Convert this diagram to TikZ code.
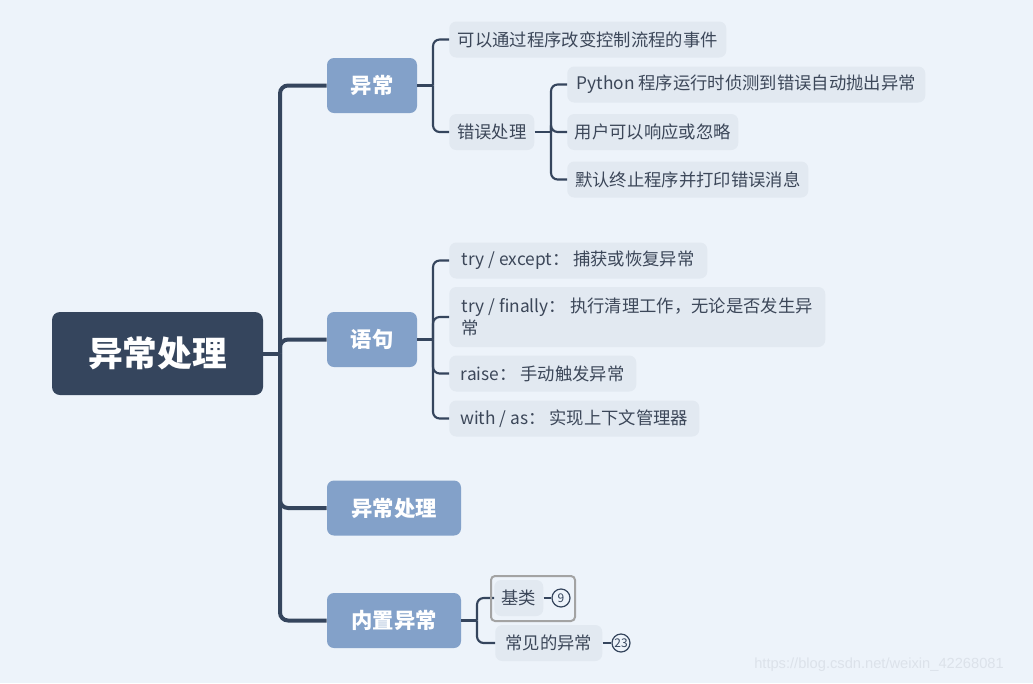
\documentclass[tikz,border=0pt]{standalone}
\usepackage{fontspec}
\setmainfont{Noto Sans CJK SC}
\newfontfamily\wmfont{Liberation Sans}
\definecolor{bgc}{HTML}{EDF3FA}
\definecolor{rootc}{HTML}{35455D}
\definecolor{mainc}{HTML}{83A1C9}
\definecolor{leafc}{HTML}{E2E9F1}
\definecolor{leaftext}{HTML}{3C4759}
\definecolor{linec}{HTML}{35455D}
\definecolor{selc}{HTML}{A3A3A3}
\definecolor{wmc}{HTML}{DCE2EA}
\tikzset{
  rootnode/.style={fill=rootc, rounded corners=6pt, text=white, inner sep=0pt,
    font=\fontsize{26}{30}\selectfont\bfseries, minimum width=158.25pt, minimum height=62.25pt},
  mainnode/.style={fill=mainc, rounded corners=5.25pt, text=white, inner sep=0pt,
    font=\fontsize{16}{19}\selectfont\bfseries, minimum height=41.25pt},
  leaf/.style={fill=leafc, rounded corners=5.25pt, text=leaftext, inner sep=0pt,
    font=\fontsize{13}{17}\selectfont, minimum height=27pt, anchor=west},
  trunk/.style={draw=linec, line width=3pt, rounded corners=6pt},
  sub/.style={draw=linec, line width=1.6pt, rounded corners=5pt},
  badge/.style={circle, draw=linec, line width=0.9pt, fill=bgc, inner sep=0pt,
    minimum size=13.5pt, text=linec, font=\fontsize{9}{10}\selectfont},
  selbox/.style={draw=selc, line width=1.5pt, rounded corners=3pt},
}
\begin{document}
\begin{tikzpicture}[x=0.75pt,y=-0.75pt]
\useasboundingbox[fill=bgc] (0,0) rectangle (1033,683);

% root and main branches
\node[rootnode] (root) at (157.5,353.5) {异常处理};
\node[mainnode, minimum width=67.5pt] (m1) at (372,85.5) {异常};
\node[mainnode, minimum width=67.5pt] (m2) at (372,339.5) {语句};
\node[mainnode, minimum width=100.5pt] (m3) at (394,508) {异常处理};
\node[mainnode, minimum width=100.5pt] (m4) at (394,620.5) {内置异常};

\coordinate (j0) at (280,353.5);
\draw[trunk] (root.east) -- (j0);
\foreach \m in {m1,m2,m3,m4} \draw[trunk] (j0) |- (\m.west);

% 异常 children
\node[leaf, minimum width=207.75pt] (a1) at (449,39.5) {可以通过程序改变控制流程的事件};
\node[leaf, minimum width=63.75pt] (a2) at (449,132) {错误处理};
\coordinate (j1) at (433,85.5);
\draw[sub] (m1.east) -- (j1);
\foreach \n in {a1,a2} \draw[sub] (j1) |- (\n.west);

% 错误处理 children
\node[leaf, minimum width=268.5pt] (b1) at (567,84.5) {Python 程序运行时侦测到错误自动抛出异常};
\node[leaf, minimum width=128.25pt] (b2) at (567,132) {用户可以响应或忽略};
\node[leaf, minimum width=180.75pt] (b3) at (567,179.5) {默认终止程序并打印错误消息};
\coordinate (j2) at (551,132);
\draw[sub] (a2.east) -- (j2);
\foreach \n in {b1,b2,b3} \draw[sub] (j2) |- (\n.west);

% 语句 children
\node[leaf, minimum width=193.5pt] (c1) at (449,260.5) {try / except： 捕获或恢复异常};
\node[leaf, minimum width=282pt, minimum height=45pt, align=left] (c2) at (449,317) {try / finally： 执行清理工作，无论是否发生异\\常};
\node[leaf, minimum width=140.25pt] (c3) at (449,373.5) {raise：  手动触发异常};
\node[leaf, minimum width=187.5pt] (c4) at (449,418.5) {with / as： 实现上下文管理器};
\coordinate (j3) at (433,339.5);
\draw[sub] (m2.east) -- (j3);
\foreach \n in {c1,c2,c3,c4} \draw[sub] (j3) |- (\n.west);

% 内置异常 children
\node[leaf, minimum width=36.75pt] (d1) at (494,598) {基类};
\node[leaf, minimum width=80.25pt] (d2) at (495,643) {常见的异常};
\coordinate (j4) at (477,620.5);
\draw[sub] (m4.east) -- (j4);
\foreach \n in {d1,d2} \draw[sub] (j4) |- (\n.west);
\draw[selbox] (491,576) rectangle (575,621);

\node[badge] (n1) at (561,598) {9};
\node[badge] (n2) at (621,643) {23};
\draw[sub] (d1.east) -- (n1.west);
\draw[sub] (d2.east) -- (n2.west);

% watermark
\node[anchor=west, inner sep=0pt, text=wmc, font=\wmfont\fontsize{11}{13}\selectfont] (wm) at (754,664.5) {https://blog.csdn.net/weixin\_42268081};
\end{tikzpicture}
\end{document}
